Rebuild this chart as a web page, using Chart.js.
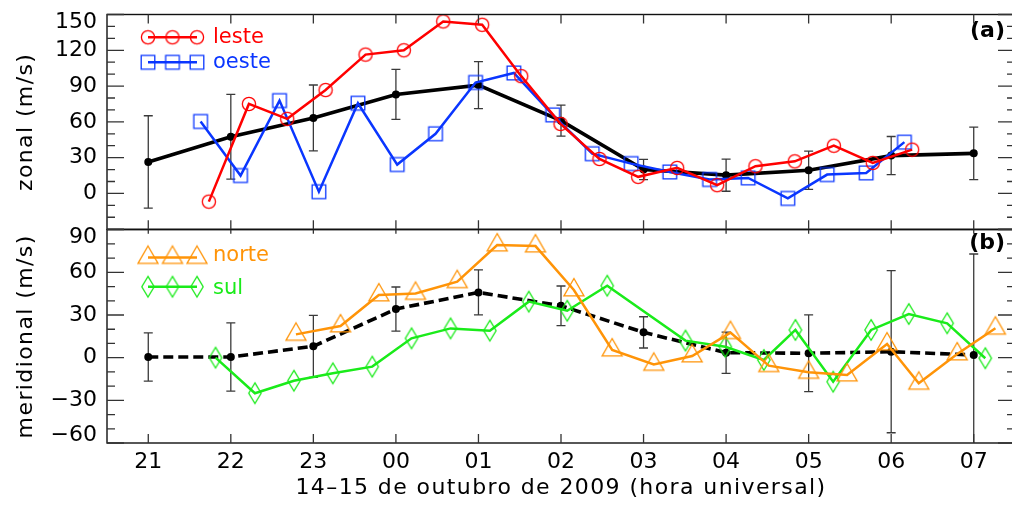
<!DOCTYPE html>
<html lang="pt">
<head>
<meta charset="UTF-8">
<title>Vento zonal e meridional - 14-15 de outubro de 2009</title>
<script src="https://cdn.jsdelivr.net/npm/chart.js"></script>
<style>
  html, body { margin: 0; padding: 0; background: #fff; overflow: hidden; }
  #wrap { position: relative; width: 1016px; height: 511px; }
  #wrap canvas { position: absolute; left: 0; top: 0; }
</style>
</head>
<body>
<div id="wrap">
  <canvas id="zonal" width="1016" height="511"></canvas>
  <canvas id="meridional" width="1016" height="511"></canvas>
</div>
<script>
// x = horas desde 21 UT do dia 14
const hourLabels = ['21', '22', '23', '00', '01', '02', '03', '04', '05', '06', '07'];
const meanHours = [0, 1, 2, 3, 4, 5, 6, 7, 8, 9, 10];

// painel (a): vento zonal
const zonalTicks = [0, 30, 60, 90, 120, 150];
const zonalMean = [26.4, 47.5, 63.3, 83, 90.8, 61, 20, 15.3, 19.4, 31.7, 33.6];
const zonalErr = [38.7, 35.5, 27.6, 21, 19.7, 13, 8.5, 13.5, 16, 16, 22];

const lesteHours = [0.734, 1.219, 1.683, 2.148, 2.632, 3.096, 3.573, 4.045, 4.518, 4.994, 5.466, 5.935, 6.407, 6.892, 7.356, 7.832, 8.305, 8.777, 9.254];
const lesteVals = [-6.9, 75, 62.5, 86.7, 116.4, 120, 144.2, 141.4, 98.3, 58.3, 28.9, 13.9, 21.4, 6.9, 22.8, 26.9, 40, 25.6, 36.7];

const oesteHours = [0.634, 1.118, 1.59, 2.067, 2.54, 3.016, 3.48, 3.965, 4.429, 4.9, 5.378, 5.85, 6.318, 6.8, 7.267, 7.748, 8.224, 8.697, 9.16];
const oesteVals = [60.3, 15, 77.8, 1.4, 75.6, 24.2, 50, 93, 101, 65.8, 33.3, 25, 18, 11.7, 13, -4.2, 15.8, 17.2, 43];

// painel (b): vento meridional
const meridTicks = [-60, -30, 0, 30, 60, 90];
const meridMean = [0.5, 0.5, 8, 34.2, 45.9, 36.5, 17.8, 3.5, 3.1, 4.2, 1.9];
const meridErr = [17, 24, 21.8, 15.5, 15.8, 13.9, 11, 14.5, 27, 57, 71];

const norteHours = [1.789, 2.329, 2.793, 3.238, 3.743, 4.227, 4.691, 5.156, 5.62, 6.124, 6.589, 7.053, 7.517, 8.0, 8.466, 8.95, 9.334, 9.8, 10.263];
const norteVals = [16.4, 22.3, 44.1, 45.2, 53.4, 79.2, 78.5, 47.6, 5.4, -4.7, 1.2, 17.6, -5.6, -10.3, -12.2, 9.6, -18, 2.6, 20.7];

const sulHours = [0.815, 1.292, 1.764, 2.236, 2.713, 3.189, 3.662, 4.138, 4.61, 5.075, 5.56, 6.508, 6.99, 7.457, 7.84, 8.297, 8.757, 9.213, 9.678, 10.14];
const sulVals = [0, -25, -16.2, -11, -6.3, 13.6, 20.6, 19, 39.4, 33, 50.6, 12, 7.7, -1.6, 19.5, -16.9, 19.5, 30.7, 24.2, -0.4];

const FONT = 'DejaVu Sans';
const RED = '#ff0000', BLUE = '#0a36ff', ORANGE = '#ff9408', GREEN = '#1aeb1a';

Chart.defaults.font.family = FONT;
Chart.defaults.font.size = 22;
Chart.defaults.color = '#000';

// hollow symbols, drawn as small canvases so the diamond can be taller than wide
function marker(shape, color) {
  const c = document.createElement('canvas');
  c.width = 28; c.height = 28;
  const g = c.getContext('2d');
  const m = 14;
  g.strokeStyle = color;
  g.lineWidth = 1.3;
  g.beginPath();
  if (shape === 'circle') g.arc(m, m, 6.6, 0, Math.PI * 2);
  if (shape === 'square') g.rect(m - 6.8, m - 6.8, 13.6, 13.6);
  if (shape === 'triangle') {
    g.moveTo(m, m - 11.5); g.lineTo(m + 10, m + 5.8); g.lineTo(m - 10, m + 5.8); g.closePath();
  }
  if (shape === 'diamond') {
    g.moveTo(m, m - 10.3); g.lineTo(m + 6.2, m); g.lineTo(m, m + 10.3); g.lineTo(m - 6.2, m); g.closePath();
  }
  g.stroke();
  return c;
}

const marks = {
  leste: marker('circle', RED),
  oeste: marker('square', BLUE),
  norte: marker('triangle', ORANGE),
  sul: marker('diamond', GREEN)
};

// legend rows: symbol line centre and text baseline
const keyRows = {
  zonal: [
    {name: 'leste', color: RED, y: 37.3, base: 43},
    {name: 'oeste', color: BLUE, y: 62.3, base: 68.3}
  ],
  meridional: [
    {name: 'norte', color: ORANGE, y: 257.5, base: 260.7},
    {name: 'sul', color: GREEN, y: 286.7, base: 294}
  ]
};
const errorBars = {zonal: zonalErr, meridional: meridErr};
const panelInfo = {
  zonal: {tag: '(a)', tagY: 31, title: 'zonal (m/s)', xTickTop: 9, xTickBottom: 9},
  meridional: {tag: '(b)', tagY: 243.5, title: 'meridional (m/s)', xTickTop: 4, xTickBottom: 9}
};

function pts(xs, ys) {
  return xs.map((x, i) => ({x: x, y: ys[i]}));
}

const panelDecor = {
  id: 'panelDecor',
  beforeDatasetsDraw(chart) {
    const {ctx, chartArea: a} = chart;
    const x = chart.scales.x, y = chart.scales.y;
    const err = errorBars[chart.canvas.id];
    const mean = chart.data.datasets[0].data;
    ctx.save();
    ctx.beginPath();
    ctx.rect(a.left, a.top, a.right - a.left, a.bottom - a.top);
    ctx.clip();
    ctx.strokeStyle = '#3a3a3a';
    ctx.lineWidth = 1.3;
    ctx.beginPath();
    mean.forEach((p, i) => {
      const px = x.getPixelForValue(p.x);
      const hi = y.getPixelForValue(p.y + err[i]);
      const lo = y.getPixelForValue(p.y - err[i]);
      ctx.moveTo(px, hi); ctx.lineTo(px, lo);
      ctx.moveTo(px - 4.5, hi); ctx.lineTo(px + 4.5, hi);
      ctx.moveTo(px - 4.5, lo); ctx.lineTo(px + 4.5, lo);
    });
    ctx.stroke();
    ctx.restore();
  },
  afterDraw(chart) {
    const {ctx, chartArea: a} = chart;
    const x = chart.scales.x, y = chart.scales.y;
    const id = chart.canvas.id;
    const info = panelInfo[id];
    ctx.save();
    ctx.setLineDash([]);

    // frame
    ctx.strokeStyle = '#111';
    ctx.lineWidth = 1.4;
    ctx.strokeRect(a.left, a.top, a.right - a.left, a.bottom - a.top);

    // inward ticks on all four sides
    ctx.strokeStyle = '#333';
    ctx.lineWidth = 1.3;
    ctx.beginPath();
    meanHours.forEach(h => {
      const px = x.getPixelForValue(h);
      ctx.moveTo(px, a.top); ctx.lineTo(px, a.top + info.xTickTop);
      ctx.moveTo(px, a.bottom); ctx.lineTo(px, a.bottom - info.xTickBottom);
    });
    for (let v = y.min; v <= y.max; v += 10) {
      const py = y.getPixelForValue(v);
      const len = v % 30 === 0 ? 17 : 8;
      ctx.moveTo(a.left, py); ctx.lineTo(a.left + len, py);
      ctx.moveTo(a.right, py); ctx.lineTo(a.right - len, py);
    }
    ctx.stroke();

    // end labels of the value axis, pulled inside the panel height
    ctx.fillStyle = '#000';
    ctx.font = '22px ' + FONT;
    ctx.textAlign = 'right';
    ctx.textBaseline = 'middle';
    [[y.max, 8], [y.min, -8]].forEach(([v, shift]) => {
      if (info.yTicks.includes(v)) {
        ctx.fillText(String(v).replace('-', '\u2212'), a.left - 10, y.getPixelForValue(v) + shift);
      }
    });

    // legend: line with three symbols, then the label
    const keyX = [148, 172.5, 197];
    keyRows[id].forEach(k => {
      ctx.strokeStyle = k.color;
      ctx.lineWidth = 2.5;
      ctx.beginPath();
      ctx.moveTo(keyX[0], k.y); ctx.lineTo(keyX[2], k.y);
      ctx.stroke();
      keyX.forEach(kx => {
        const m = marks[k.name];
        ctx.drawImage(m, kx - m.width / 2, k.y - m.height / 2);
      });
      ctx.fillStyle = k.color;
      ctx.font = '21px ' + FONT;
      ctx.textAlign = 'left';
      ctx.textBaseline = 'alphabetic';
      ctx.fillText(k.name, 213, k.base);
    });

    // panel tag
    ctx.fillStyle = '#000';
    ctx.font = 'bold 22px ' + FONT;
    ctx.textAlign = 'right';
    ctx.textBaseline = 'middle';
    ctx.fillText(info.tag, 1005, info.tagY);

    // axis titles
    ctx.font = '22px ' + FONT;
    ctx.letterSpacing = '1.4px';
    ctx.textAlign = 'center';
    ctx.save();
    ctx.translate(26, (a.top + a.bottom) / 2);
    ctx.rotate(-Math.PI / 2);
    ctx.fillText(info.title, 0, 0);
    ctx.restore();
    if (id === 'meridional') {
      ctx.fillText('14\u201315 de outubro de 2009 (hora universal)', (a.left + a.right) / 2, 488);
    }
    ctx.restore();
  }
};

function buildPanel(id, spec) {
  panelInfo[id].yTicks = spec.yTicks;
  return new Chart(document.getElementById(id), {
    type: 'line',
    data: {datasets: spec.datasets},
    options: {
      responsive: false,
      animation: false,
      layout: {padding: spec.padding, autoPadding: false},
      elements: {line: {tension: 0}},
      plugins: {legend: {display: false}, tooltip: {enabled: false}},
      scales: {
        x: {
          type: 'linear',
          min: -0.5,
          max: 10.5,
          display: spec.showX,
          grid: {display: false, drawTicks: true, tickLength: 6},
          border: {display: false},
          afterBuildTicks: s => { s.ticks = meanHours.map(v => ({value: v})); },
          ticks: {autoSkip: false, maxRotation: 0, padding: 0, callback: v => hourLabels[v]},
          afterFit: s => { if (s.options.display) s.height = 68; }
        },
        y: {
          min: spec.yMin,
          max: spec.yMax,
          grid: {display: false, drawTicks: true, tickLength: 10},
          border: {display: false},
          ticks: {
            stepSize: 10,
            autoSkip: false,
            padding: 0,
            // the two end values are written by panelDecor
            callback: v => (spec.yTicks.includes(v) && v !== spec.yMin && v !== spec.yMax) ? String(v).replace('-', '\u2212') : ''
          },
          afterFit: s => { s.width = 107; }
        }
      }
    },
    plugins: [panelDecor]
  });
}

function meanSet(vals, dashed) {
  return {
    data: pts(meanHours, vals),
    borderColor: '#000',
    borderWidth: 3.6,
    borderDash: dashed ? [10, 5] : [],
    pointRadius: 4,
    pointStyle: 'circle',
    pointBackgroundColor: '#000',
    pointBorderWidth: 0,
    order: 3
  };
}

function sideSet(name, color, xs, ys, order) {
  return {
    data: pts(xs, ys),
    borderColor: color,
    borderWidth: 2.5,
    pointStyle: marks[name],
    pointRadius: 7,
    order: order
  };
}

buildPanel('zonal', {
  yMin: -30, yMax: 150, yTicks: zonalTicks, showX: false,
  padding: {top: 14.5, right: 1, bottom: 281.8, left: 0},
  datasets: [
    meanSet(zonalMean, false),
    sideSet('oeste', BLUE, oesteHours, oesteVals, 2),
    sideSet('leste', RED, lesteHours, lesteVals, 1)
  ]
});

buildPanel('meridional', {
  yMin: -60, yMax: 90, yTicks: meridTicks, showX: true,
  padding: {top: 229.7, right: 1, bottom: 0, left: 0},
  datasets: [
    meanSet(meridMean, true),
    sideSet('sul', GREEN, sulHours, sulVals, 2),
    sideSet('norte', ORANGE, norteHours, norteVals, 1)
  ]
});
</script>
</body>
</html>
